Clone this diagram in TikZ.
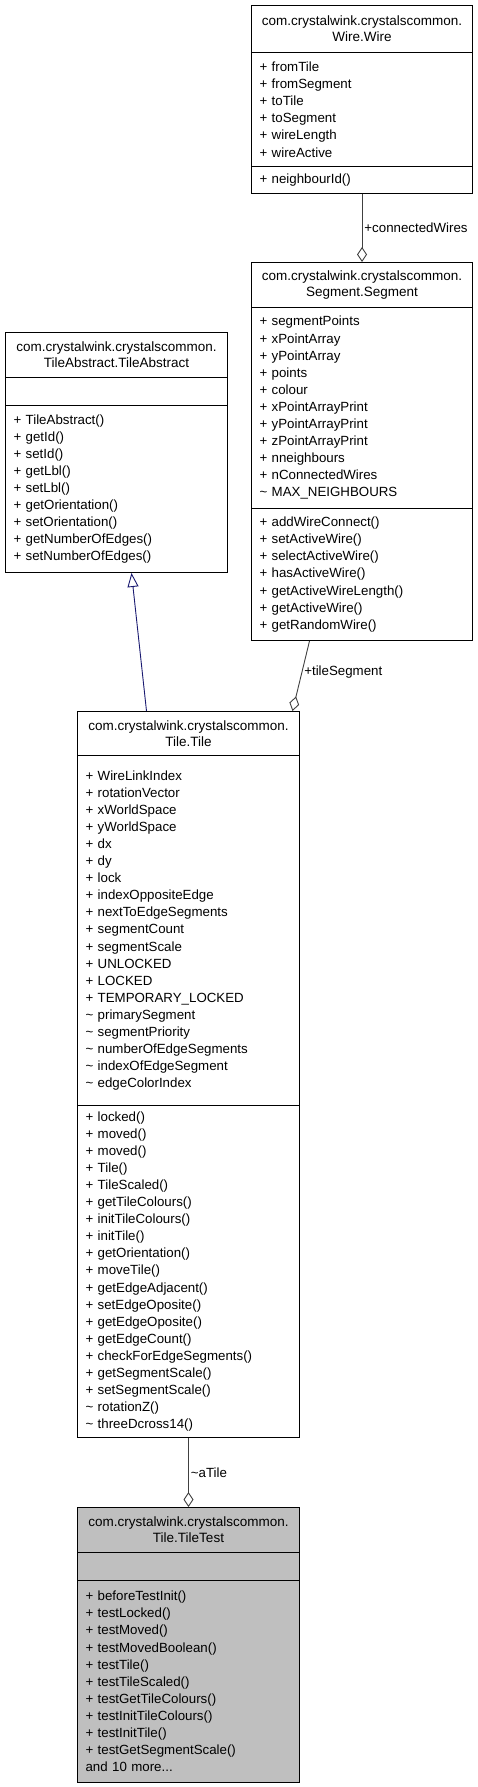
\documentclass[tikz,border=0pt]{standalone}
\usepackage{fontspec}
\setmainfont{Liberation Sans}
\usetikzlibrary{arrows.meta}
\definecolor{aggcol}{HTML}{404040}
\definecolor{inhcol}{HTML}{191970}
\definecolor{testfill}{HTML}{BFBFBF}
\tikzset{
  box/.style={draw=black, line width=1pt, anchor=north west, inner xsep=8pt, inner ysep=0pt},
  ttl/.style={box, align=center, font=\fontsize{13.5}{16}\selectfont},
  mem/.style={box, align=left, font=\fontsize{13.3}{17.1}\selectfont},
  agg/.style={draw=aggcol, line width=0.9pt, -{Diamond[fill=white, length=15pt, width=10pt]}},
  inh/.style={draw=inhcol, line width=0.9pt, -{Triangle[open, length=14pt, width=11pt]}},
  lbl/.style={font=\fontsize{13.3}{16}\selectfont, inner sep=2pt, text=black}
}
\begin{document}
\begin{tikzpicture}[x=1pt, y=-1pt]
\useasboundingbox (0,0) rectangle (477,1787);
% Wire
\node[ttl, text width=205pt, minimum height=47pt] (wireT) at (251,5) {com.crystalwink.crystalscommon.\\Wire.Wire};
\node[mem, text width=205pt, minimum height=114pt] (wireA) at (251,52) {+ fromTile\\+ fromSegment\\+ toTile\\+ toSegment\\+ wireLength\\+ wireActive};
\node[mem, text width=205pt, minimum height=27pt] (wireM) at (251,166) {+ neighbourId()};
% Segment
\node[ttl, text width=205pt, minimum height=45pt] (segT) at (251,262) {com.crystalwink.crystalscommon.\\Segment.Segment};
\node[mem, text width=205pt, minimum height=201pt] (segA) at (251,307) {+ segmentPoints\\+ xPointArray\\+ yPointArray\\+ points\\+ colour\\+ xPointArrayPrint\\+ yPointArrayPrint\\+ zPointArrayPrint\\+ nneighbours\\+ nConnectedWires\\\textasciitilde{} MAX\_NEIGHBOURS};
\node[mem, text width=205pt, minimum height=132pt] (segM) at (251,508) {+ addWireConnect()\\+ setActiveWire()\\+ selectActiveWire()\\+ hasActiveWire()\\+ getActiveWireLength()\\+ getActiveWire()\\+ getRandomWire()};
% TileAbstract
\node[ttl, text width=206pt, minimum height=45pt] (absT) at (5,332) {com.crystalwink.crystalscommon.\\TileAbstract.TileAbstract};
\node[mem, text width=206pt, minimum height=28pt] (absA) at (5,377) {};
\node[mem, text width=206pt, minimum height=167pt] (absM) at (5,405) {+ TileAbstract()\\+ getId()\\+ setId()\\+ getLbl()\\+ setLbl()\\+ getOrientation()\\+ setOrientation()\\+ getNumberOfEdges()\\+ setNumberOfEdges()};
% Tile
\node[ttl, text width=206pt, minimum height=44pt] (tileT) at (77,711) {com.crystalwink.crystalscommon.\\Tile.Tile};
\node[mem, text width=206pt, minimum height=350pt] (tileA) at (77,755) {+ WireLinkIndex\\+ rotationVector\\+ xWorldSpace\\+ yWorldSpace\\+ dx\\+ dy\\+ lock\\+ indexOppositeEdge\\+ nextToEdgeSegments\\+ segmentCount\\+ segmentScale\\+ UNLOCKED\\+ LOCKED\\+ TEMPORARY\_LOCKED\\\textasciitilde{} primarySegment\\\textasciitilde{} segmentPriority\\\textasciitilde{} numberOfEdgeSegments\\\textasciitilde{} indexOfEdgeSegment\\\textasciitilde{} edgeColorIndex};
\node[mem, text width=206pt, minimum height=332pt] (tileM) at (77,1105) {+ locked()\\+ moved()\\+ moved()\\+ Tile()\\+ TileScaled()\\+ getTileColours()\\+ initTileColours()\\+ initTile()\\+ getOrientation()\\+ moveTile()\\+ getEdgeAdjacent()\\+ setEdgeOposite()\\+ getEdgeOposite()\\+ getEdgeCount()\\+ checkForEdgeSegments()\\+ getSegmentScale()\\+ setSegmentScale()\\\textasciitilde{} rotationZ()\\\textasciitilde{} threeDcross14()};
% TileTest
\node[ttl, fill=testfill, text width=206pt, minimum height=45pt] (testT) at (77,1507) {com.crystalwink.crystalscommon.\\Tile.TileTest};
\node[mem, fill=testfill, text width=206pt, minimum height=28pt] (testA) at (77,1552) {};
\node[mem, fill=testfill, text width=206pt, minimum height=202pt] (testM) at (77,1580) {+ beforeTestInit()\\+ testLocked()\\+ testMoved()\\+ testMovedBoolean()\\+ testTile()\\+ testTileScaled()\\+ testGetTileColours()\\+ testInitTileColours()\\+ testInitTile()\\+ testGetSegmentScale()\\and 10 more...};
% connectors
\draw[agg] (wireM.south) -- node[lbl, right, pos=0.5] {+connectedWires} (segT.north);
\draw[agg] ([xshift=-52.5pt]segM.south) -- node[lbl, right, pos=0.45] {+tileSegment} ([xshift=104pt]tileT.north);
\draw[inh] ([xshift=-42pt]tileT.north) -- ([xshift=15pt]absM.south);
\draw[agg] (tileM.south) -- node[lbl, right, pos=0.5] {\textasciitilde{}aTile} (testT.north);
\end{tikzpicture}
\end{document}
